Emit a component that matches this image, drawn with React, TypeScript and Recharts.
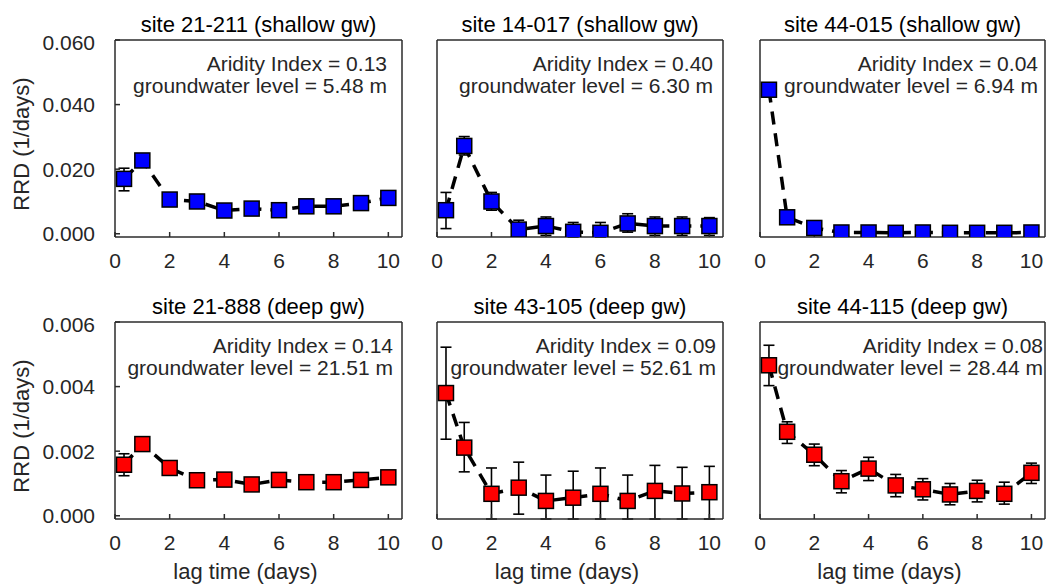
import { ComposedChart, ErrorBar, Line, XAxis, YAxis } from "recharts";

const lagDays = [0.33, 1, 2, 3, 4, 5, 6, 7, 8, 9, 10];
const xTicks = [0, 2, 4, 6, 8, 10];
const shallowTicks = [0, 0.02, 0.04, 0.06];
const deepTicks = [0, 0.002, 0.004, 0.006];

// site 21-211 (shallow)
const rrd21211 = [0.017, 0.0227, 0.0106, 0.01, 0.0072, 0.0078, 0.0073, 0.0085, 0.0085, 0.0095, 0.0111];
const hi21211 = [0.0203, 0.0235, 0.0113, 0.0107, 0.0078, 0.0084, 0.0079, 0.0091, 0.0091, 0.0101, 0.0118];
const lo21211 = [0.0133, 0.0219, 0.0099, 0.0093, 0.0066, 0.0072, 0.0067, 0.0079, 0.0079, 0.0089, 0.0104];

// site 14-017 (shallow)
const rrd14017 = [0.0073, 0.0272, 0.01, 0.0013, 0.0024, 0.0006, 0.0003, 0.0032, 0.0024, 0.0024, 0.0024];
const hi14017 = [0.0128, 0.0301, 0.0128, 0.0042, 0.0052, 0.0035, 0.0035, 0.0062, 0.0052, 0.0052, 0.005];
const lo14017 = [0.0016, 0.0244, 0.0073, -0.0007, -0.0005, -0.001, -0.001, 0.0005, -0.0005, -0.0005, -0.0005];

// site 44-015 (shallow)
const rrd44015 = [0.0446, 0.0051, 0.0018, 0.0004, 0.0004, 0.0003, 0.0004, 0.0003, 0.0003, 0.0003, 0.0004];
const hi44015 = [0.0452, 0.0057, 0.0023, 0.0008, 0.0008, 0.0007, 0.0008, 0.0007, 0.0007, 0.0007, 0.0008];
const lo44015 = [0.044, 0.0045, 0.0013, 0.0, 0.0, -0.0001, 0.0, -0.0001, -0.0001, -0.0001, 0.0];

// site 21-888 (deep)
const rrd21888 = [0.00158, 0.00222, 0.00148, 0.0011, 0.00112, 0.00097, 0.00111, 0.00104, 0.00104, 0.00111, 0.00119];
const hi21888 = [0.00192, 0.00228, 0.00153, 0.00115, 0.00117, 0.00102, 0.00116, 0.00109, 0.00109, 0.00116, 0.00124];
const lo21888 = [0.00124, 0.00216, 0.00143, 0.00105, 0.00107, 0.00092, 0.00106, 0.00099, 0.00099, 0.00106, 0.00114];

// site 43-105 (deep)
const rrd43105 = [0.0038, 0.00211, 0.00068, 0.00087, 0.00046, 0.00056, 0.00068, 0.00046, 0.00077, 0.00069, 0.00073];
const hi43105 = [0.00522, 0.00289, 0.00148, 0.00166, 0.00126, 0.00138, 0.00148, 0.00126, 0.00156, 0.0015, 0.00153];
const lo43105 = [0.00237, 0.00136, -0.0001, 0.00005, -0.0001, -0.0001, -0.0001, -0.0001, -0.0001, -0.0001, -0.0001];

// site 44-115 (deep)
const rrd44115 = [0.00466, 0.0026, 0.00189, 0.00107, 0.00146, 0.00094, 0.00082, 0.00066, 0.00077, 0.00068, 0.00133];
const hi44115 = [0.00528, 0.00291, 0.00222, 0.0014, 0.00181, 0.00128, 0.00115, 0.001, 0.0011, 0.00104, 0.00163];
const lo44115 = [0.00403, 0.00224, 0.00155, 0.00071, 0.00109, 0.00059, 0.00049, 0.00034, 0.00043, 0.00036, 0.001];

const titles = [
  "site 21-211 (shallow gw)",
  "site 14-017 (shallow gw)",
  "site 44-015 (shallow gw)",
  "site 21-888 (deep gw)",
  "site 43-105 (deep gw)",
  "site 44-115 (deep gw)",
];
const aridity = ["0.13", "0.40", "0.04", "0.14", "0.09", "0.08"];
const gwLevel = ["5.48", "6.30", "6.94", "21.51", "52.61", "28.44"];

const series = [
  { rrd: rrd21211, hi: hi21211, lo: lo21211 },
  { rrd: rrd14017, hi: hi14017, lo: lo14017 },
  { rrd: rrd44015, hi: hi44015, lo: lo44015 },
  { rrd: rrd21888, hi: hi21888, lo: lo21888 },
  { rrd: rrd43105, hi: hi43105, lo: lo43105 },
  { rrd: rrd44115, hi: hi44115, lo: lo44115 },
];

// plot boxes in page pixels
const cols = [
  { left: 115, width: 287 },
  { left: 437, width: 286 },
  { left: 760, width: 285 },
];
const rows = [
  { top: 40, height: 197, domain: [-0.001, 0.06], ticks: shallowTicks, color: "#0000ff" },
  { top: 322, height: 197, domain: [-0.0001, 0.006], ticks: deepTicks, color: "#ff0000" },
];
const noteInset = [15, 10, 7, 9, 7, 2];

const FONT = "'Liberation Sans', Arial, sans-serif";
const INK = "#262626";
const AXIS = { stroke: "#2b2b2b", strokeWidth: 1.5 };
const PAD_L = 110;
const PAD_T = 10;
const PAD_R = 10;
const PAD_B = 45;

function Square(props: any) {
  const { cx, cy, fill } = props;
  if (cx == null || cy == null) return null;
  return <rect x={cx - 7.5} y={cy - 7.5} width={15} height={15} fill={fill} stroke="#000" strokeWidth={1.5} />;
}

function Panel({ idx }: { idx: number }) {
  const col = cols[idx % 3];
  const row = rows[Math.floor(idx / 3)];
  const s = series[idx];
  const yMin = row.domain[0];
  const data = lagDays.map((x, i) => ({
    x,
    rrd: s.rrd[i],
    err: [s.rrd[i] - Math.max(s.lo[i], yMin), s.hi[i] - s.rrd[i]],
  }));
  const showY = idx % 3 === 0;

  return (
    <div style={{ position: "absolute", left: col.left - PAD_L, top: row.top - PAD_T }}>
      <ComposedChart
        width={PAD_L + col.width + PAD_R}
        height={PAD_T + row.height + PAD_B}
        data={data}
        margin={{ top: PAD_T - 1, right: PAD_R - 1, left: 0, bottom: 0 }}
      >
        <XAxis
          xAxisId="b"
          dataKey="x"
          type="number"
          domain={[0, 10.5]}
          ticks={xTicks}
          allowDataOverflow
          height={PAD_B}
          axisLine={AXIS}
          tickLine={AXIS}
          tickSize={-5}
          tickMargin={21}
          tick={{ fontSize: 21, fill: INK, fontFamily: FONT }}
        />
        <XAxis
          xAxisId="t"
          orientation="top"
          dataKey="x"
          type="number"
          domain={[0, 10.5]}
          ticks={xTicks}
          allowDataOverflow
          height={1}
          axisLine={AXIS}
          tickLine={AXIS}
          tickSize={-5}
          tick={false}
        />
        <YAxis
          yAxisId="l"
          type="number"
          domain={row.domain}
          ticks={row.ticks}
          allowDataOverflow
          width={PAD_L}
          axisLine={AXIS}
          tickLine={AXIS}
          tickSize={-5}
          tickMargin={25}
          tick={showY ? { fontSize: 21, fill: INK, fontFamily: FONT } : false}
          tickFormatter={(v: number) => v.toFixed(3)}
        />
        <YAxis
          yAxisId="r"
          orientation="right"
          type="number"
          domain={row.domain}
          ticks={row.ticks}
          allowDataOverflow
          width={1}
          axisLine={AXIS}
          tickLine={AXIS}
          tickSize={-5}
          tick={false}
        />
        <Line
          xAxisId="b"
          yAxisId="l"
          type="linear"
          dataKey="rrd"
          stroke="#000"
          strokeWidth={3.5}
          strokeDasharray="13 9"
          isAnimationActive={false}
          dot={(p: any) => <Square key={`d${p.index}`} cx={p.cx} cy={p.cy} fill={row.color} />}
          activeDot={false}
        >
          <ErrorBar dataKey="err" direction="y" width={5.5} stroke="#000" strokeWidth={1.6} isAnimationActive={false} />
        </Line>
      </ComposedChart>
    </div>
  );
}

export default function App() {
  return (
    <div
      style={{
        position: "absolute",
        left: 0,
        top: 0,
        width: 1046,
        height: 584,
        overflow: "hidden",
        background: "#fff",
        fontFamily: FONT,
      }}
    >
      {titles.map((_, i) => (
        <Panel key={i} idx={i} />
      ))}
      <svg
        width={1046}
        height={584}
        style={{ position: "absolute", left: 0, top: 0, pointerEvents: "none" }}
        fontFamily={FONT}
      >
        {titles.map((t, i) => {
          const col = cols[i % 3];
          const row = rows[Math.floor(i / 3)];
          const right = col.left + col.width - noteInset[i];
          return (
            <g key={t}>
              <text x={col.left + col.width / 2} y={row.top - 8.5} textAnchor="middle" fontSize={22} fill="#000">
                {t}
              </text>
              <text x={right} y={row.top + 30.5} textAnchor="end" fontSize={21} fill={INK}>
                {`Aridity Index = ${aridity[i]}`}
              </text>
              <text x={right} y={row.top + 52.5} textAnchor="end" fontSize={21} fill={INK}>
                {`groundwater level = ${gwLevel[i]} m`}
              </text>
            </g>
          );
        })}
        {rows.map((row, r) => {
          const cy = row.top + row.height / 2 + 5.5;
          return (
            <text
              key={`yl${r}`}
              x={28.5}
              y={cy}
              transform={`rotate(-90, 28.5, ${cy})`}
              textAnchor="middle"
              fontSize={22}
              fill={INK}
            >
              RRD (1/days)
            </text>
          );
        })}
        {cols.map((col, c) => (
          <text key={`xl${c}`} x={col.left + col.width / 2 - 13} y={579} textAnchor="middle" fontSize={22} fill={INK}>
            lag time (days)
          </text>
        ))}
      </svg>
    </div>
  );
}
